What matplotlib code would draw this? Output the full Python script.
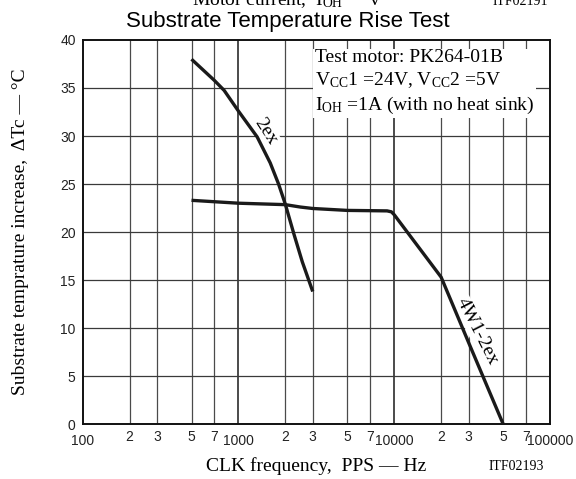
import matplotlib
matplotlib.use("Agg")
import matplotlib.pyplot as plt
from matplotlib.ticker import FixedLocator, FixedFormatter

plt.rcParams['mathtext.fontset'] = 'custom'
plt.rcParams['mathtext.rm'] = 'Liberation Serif'
plt.rcParams['mathtext.it'] = 'Liberation Serif:italic'

SERIF = 'Liberation Serif'
SANS = 'Liberation Sans'

# curve "2ex"
freq_2ex = [500, 700, 810, 1000, 1320, 1600, 1810, 2000, 2270, 2570, 3000]
temp_2ex = [38.0, 35.8, 34.75, 32.6, 29.9, 27.2, 25.0, 22.9, 19.8, 16.9, 13.8]

# curve "4W1-2ex"
freq_4w = [500, 1000, 2000, 2500, 3000, 5000, 9000, 9600, 10000, 20000, 30000, 50000]
temp_4w = [23.3, 23.0, 22.85, 22.6, 22.45, 22.25, 22.2, 22.1, 21.8, 15.3, 8.5, 0.0]

major_x = [100, 1000, 10000, 100000]
major_x_labels = ['100', '1000', '10000', '100000']
minor_x = [m * d for d in (100, 1000, 10000) for m in (2, 3, 5, 7)]
minor_x_labels = [str(m) for d in (100, 1000, 10000) for m in (2, 3, 5, 7)]
y_ticks = [0, 5, 10, 15, 20, 25, 30, 35, 40]

fig = plt.figure(figsize=(5.76, 4.79), dpi=100)
ax = fig.add_axes([0.1434, 0.1148, 0.8115, 0.8017])
ax.set_xscale('log')
ax.set_xlim(100, 100000)
ax.set_ylim(0, 40)

# grid
for x in minor_x:
    ax.axvline(x, color='#4a4a4a', lw=0.9, zorder=1)
for x in major_x[1:-1]:
    ax.axvline(x, color='#1a1a1a', lw=1.1, zorder=1)
for y in y_ticks[1:-1]:
    ax.axhline(y, color='#3a3a3a', lw=0.9, zorder=1)

ax.plot(freq_2ex, temp_2ex, color='#1a1a1a', lw=2.4, zorder=3, solid_capstyle='butt')
ax.plot(freq_4w, temp_4w, color='#1a1a1a', lw=2.4, zorder=3, solid_capstyle='butt')

ax.xaxis.set_major_locator(FixedLocator(major_x))
ax.xaxis.set_major_formatter(FixedFormatter(major_x_labels))
ax.xaxis.set_minor_locator(FixedLocator(minor_x))
ax.xaxis.set_minor_formatter(FixedFormatter(minor_x_labels))
ax.set_yticks(y_ticks)
ax.tick_params(axis='both', which='both', length=0, labelsize=10, labelcolor='#222222')
ax.tick_params(axis='x', which='major', pad=7)
ax.tick_params(axis='x', which='minor', pad=4)
ax.tick_params(axis='y', pad=5)
for lab in ax.get_xticklabels(which='both') + ax.get_yticklabels():
    lab.set_family(SANS)

for s in ax.spines.values():
    s.set_linewidth(1.4)
    s.set_color('#111111')

ax.set_xlabel('CLK frequency,  PPS — Hz', fontsize=14, family=SERIF, labelpad=7)
ax.set_ylabel('Substrate temprature increase,  ΔTc — °C', fontsize=14, family=SERIF, labelpad=22)

fig.text(0.5, 0.9435, 'Substrate Temperature Rise Test', fontsize=16, family=SANS,
         ha='center', va='baseline')

# curve labels (white patch under the curve, over the grid)
ax.text(1490, 30.5, '2ex', fontsize=14, family=SERIF, rotation=-57,
        ha='center', va='center', zorder=2,
        bbox=dict(facecolor='white', edgecolor='none', pad=0.5))
ax.text(34100, 9.6, '4W1-2ex', fontsize=14, family=SERIF, rotation=-63,
        ha='center', va='center', zorder=2,
        bbox=dict(facecolor='white', edgecolor='none', pad=0.5))

# test conditions
cond = ('Test motor: PK264-01B\n'
        r'V$_{\mathrm{CC}}$1 =24V, V$_{\mathrm{CC}}$2 =5V' '\n'
        r'I$_{\mathrm{OH}}$ =1A (with no heat sink)')
ax.text(0.497, 0.977, cond, transform=ax.transAxes, fontsize=14, family=SERIF,
        ha='left', va='top', linespacing=1.3, zorder=4,
        bbox=dict(facecolor='white', edgecolor='none', pad=1.5))

fig.text(516 / 576, 12 / 479, 'ITF02193', fontsize=10, family=SERIF, ha='center', va='center')

# header line cut off at the top edge
fig.text(192 / 576, 1 - 5 / 479, r'Motor current,  I$_{\mathrm{OH}}$', fontsize=14,
         family=SERIF, ha='left', va='baseline')
fig.text(375 / 576, 1 - 5 / 479, 'v', fontsize=14, family=SERIF, ha='center', va='baseline')
fig.text(520 / 576, 1 - 5 / 479, 'ITF02191', fontsize=10, family=SERIF, ha='center', va='baseline')

fig.savefig('out.png', dpi=100)
